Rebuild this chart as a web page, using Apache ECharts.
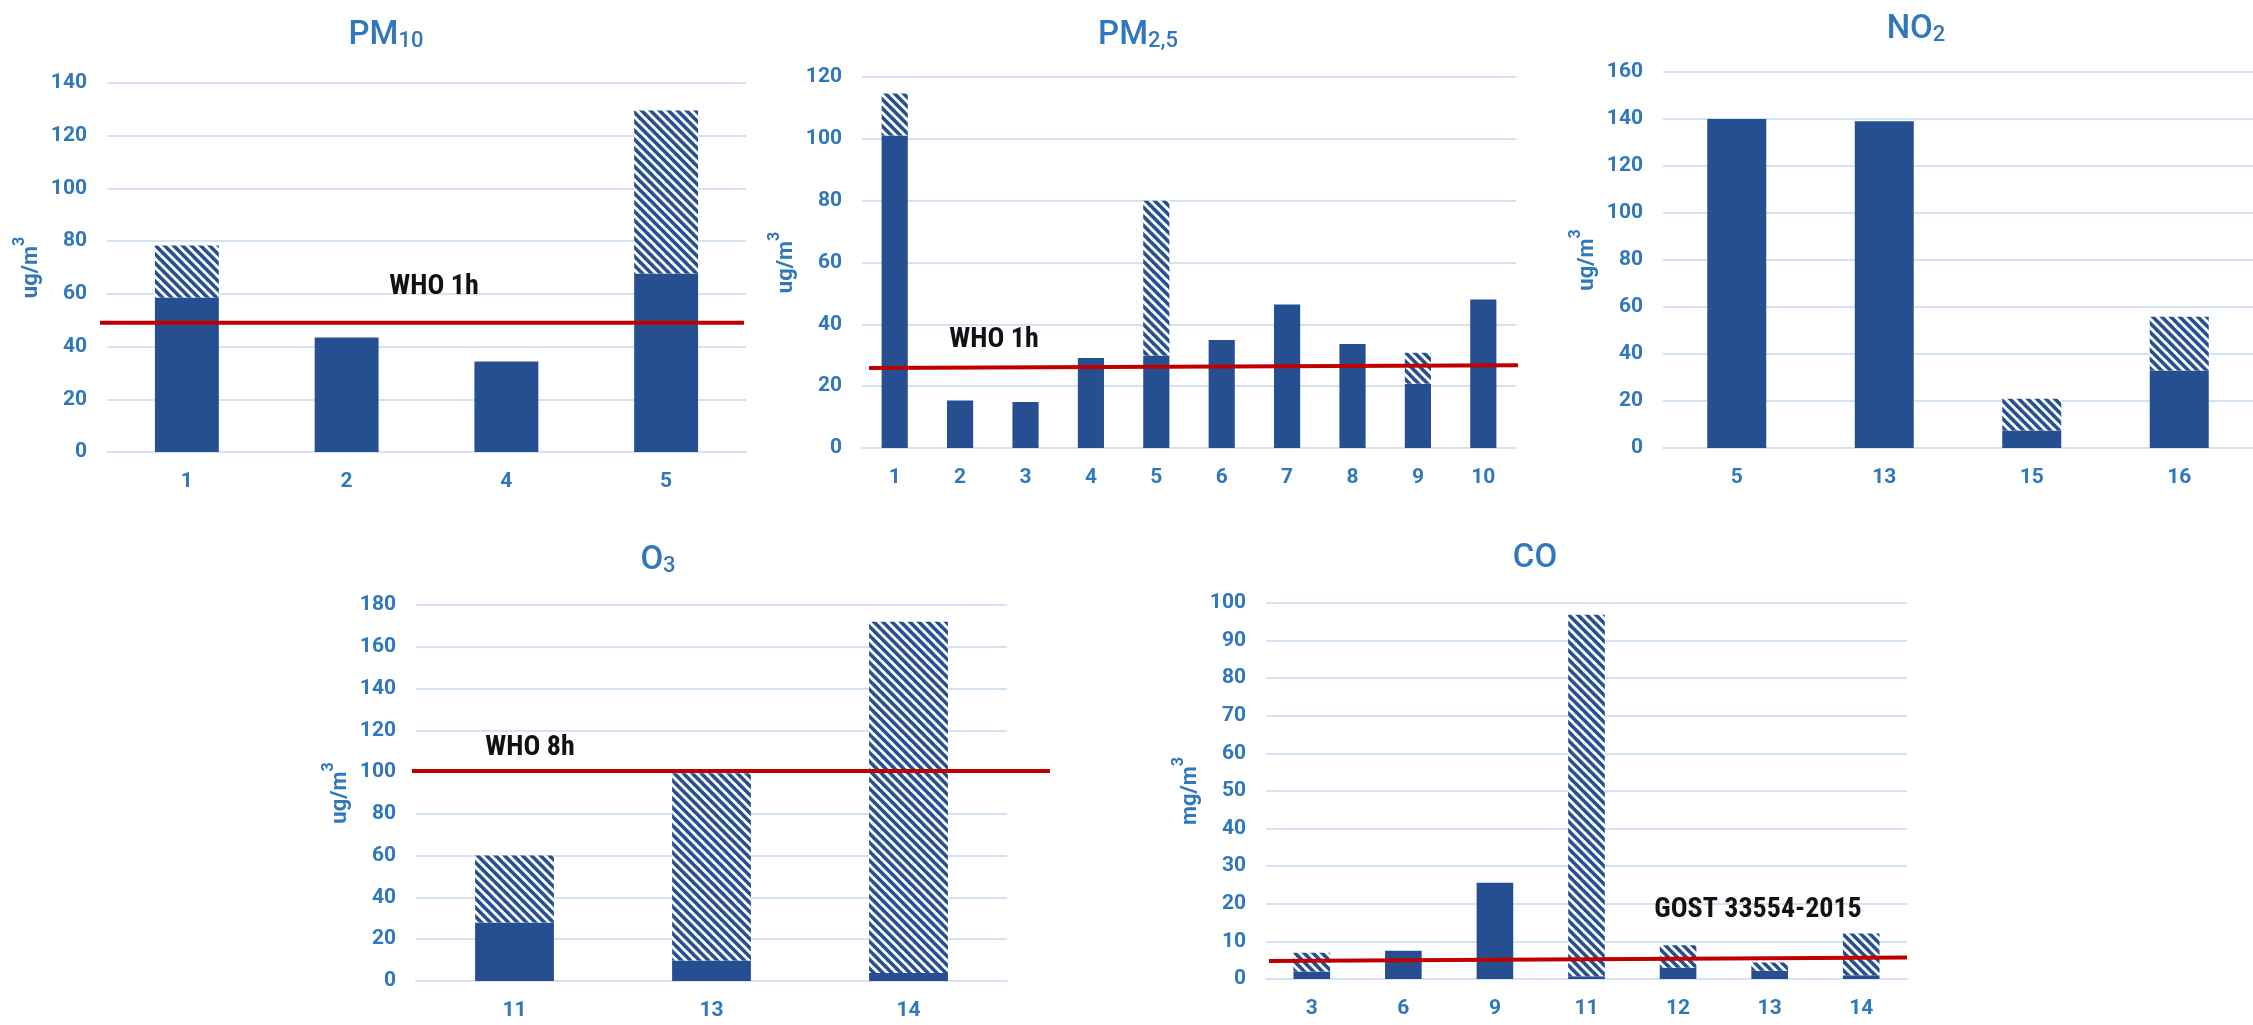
<!DOCTYPE html>
<html><head><meta charset="utf-8">
<script src="https://cdn.jsdelivr.net/npm/echarts/dist/echarts.min.js"></script>
<style>html,body{margin:0;padding:0;background:#fff}#c{width:2253px;height:1025px}</style>
</head><body><div id="c"></div><script>
// ---------------- data ----------------
const pm10Cats = ['1', '2', '4', '5'];
const pm10Measured = [58.6, 43.4, 34.3, 67.7];
const pm10Peak = [78.3, null, null, 129.6];
const pm10Limit = [49, 49];
const pm10Ticks = [0, 140, 20];

const pm25Cats = ['1', '2', '3', '4', '5', '6', '7', '8', '9', '10'];
const pm25Measured = [101.1, 15.4, 14.9, 29.1, 29.9, 34.9, 46.4, 33.6, 20.8, 48.0];
const pm25Peak = [114.7, null, null, null, 80.0, null, null, null, 30.8, null];
const pm25Limit = [25.9, 26.8];
const pm25Ticks = [0, 120, 20];

const no2Cats = ['5', '13', '15', '16'];
const no2Measured = [140.0, 139.0, 7.5, 33.0];
const no2Peak = [null, null, 21.0, 55.9];
const no2Ticks = [0, 160, 20];

const o3Cats = ['11', '13', '14'];
const o3Measured = [28.0, 9.8, 3.8];
const o3Peak = [60.1, 99.5, 172.0];
const o3Limit = [100.5, 100.5];
const o3Ticks = [0, 180, 20];

const coCats = ['3', '6', '9', '11', '12', '13', '14'];
const coMeasured = [2.0, 7.5, 25.6, 0.7, 3.0, 2.2, 1.0];
const coPeak = [7.0, null, null, 96.9, 9.0, 4.4, 12.1];
const coLimit = [4.8, 5.7];
const coTicks = [0, 100, 10];

// ---------------- styling ----------------
const BLUE = '#2F78BE';
const NAVY = '#264F91';
const GRIDC = '#D3E3F3';
const RED = '#C00000';
const FONT = "Roboto, 'Liberation Sans', sans-serif";
const NARROW = "'Liberation Sans Narrow', 'Roboto Condensed', Roboto, sans-serif";

function hatch() {
  const s = 9, c = document.createElement('canvas');
  c.width = s; c.height = s;
  const g = c.getContext('2d');
  g.fillStyle = '#ffffff'; g.fillRect(0, 0, s, s);
  g.strokeStyle = NAVY; g.lineWidth = 3.6;
  for (let o = -s; o <= s; o += s) {
    g.beginPath(); g.moveTo(o - 1, -1); g.lineTo(o + s + 1, s + 1); g.stroke();
  }
  return { image: c, repeat: 'repeat' };
}
const HATCH = hatch();

const panels = [
  { cats: pm10Cats, meas: pm10Measured, peak: pm10Peak, limit: pm10Limit, ticks: pm10Ticks,
    grid: { left: 107, top: 83, width: 639, height: 369 }, unit: 'ug', line: [-7, 637],
    title: ['PM', '10'], tx: 386, ty: -4, lab: 'WHO 1h', lx: 434, ly: 287 },
  { cats: pm25Cats, meas: pm25Measured, peak: pm25Peak, limit: pm25Limit, ticks: pm25Ticks,
    grid: { left: 862, top: 77, width: 654, height: 371 }, unit: 'ug', line: [7, 656],
    title: ['PM', '2,5'], tx: 1138, ty: -4, lab: 'WHO 1h', lx: 994, ly: 340 },
  { cats: no2Cats, meas: no2Measured, peak: no2Peak, limit: null, ticks: no2Ticks,
    grid: { left: 1663, top: 72, width: 590, height: 376 }, unit: 'ug', line: null,
    title: ['NO', '2'], tx: 1916, ty: -10 },
  { cats: o3Cats, meas: o3Measured, peak: o3Peak, limit: o3Limit, ticks: o3Ticks,
    grid: { left: 416, top: 605, width: 591, height: 376 }, unit: 'ug', line: [-4, 634],
    title: ['O', '3'], tx: 658, ty: 521, lab: 'WHO 8h', lx: 530, ly: 748 },
  { cats: coCats, meas: coMeasured, peak: coPeak, limit: coLimit, ticks: coTicks,
    grid: { left: 1266, top: 603, width: 641, height: 376 }, unit: 'mg', line: [3, 641],
    title: ['CO', ''], tx: 1535, ty: 519, lab: 'GOST 33554-2015', lx: 1758, ly: 910 }
];

const grid = [], xAxis = [], yAxis = [], series = [], graphic = [];
panels.forEach((p, i) => {
  grid.push(Object.assign({ outerBoundsMode: 'none', containLabel: false }, p.grid));
  xAxis.push({
    type: 'category', gridIndex: i, data: p.cats,
    axisLine: { show: true, lineStyle: { color: GRIDC, width: 2 } },
    axisTick: { show: false },
    axisLabel: { color: BLUE, fontSize: 21, fontFamily: FONT, fontWeight: 'bold', margin: 19 }
  });
  yAxis.push({
    type: 'value', gridIndex: i, min: p.ticks[0], max: p.ticks[1], interval: p.ticks[2],
    axisLine: { show: false }, axisTick: { show: false },
    axisLabel: { color: BLUE, fontSize: 21, fontFamily: FONT, fontWeight: 'bold', margin: 20 },
    splitLine: { lineStyle: { color: GRIDC, width: 2 } }
  });
  series.push({
    type: 'bar', xAxisIndex: i, yAxisIndex: i, stack: 's' + i, barCategoryGap: '60%',
    itemStyle: { color: NAVY }, data: p.meas, silent: true
  });
  series.push({
    type: 'bar', xAxisIndex: i, yAxisIndex: i, stack: 's' + i, barCategoryGap: '60%',
    itemStyle: { color: HATCH },
    data: p.peak.map((v, k) => v == null ? '-' : +(v - p.meas[k]).toFixed(2)), silent: true
  });
  // panel title
  graphic.push({
    type: 'text', x: p.tx, y: p.ty, z: 10,
    style: {
      text: '{a|' + p.title[0] + '}' + (p.title[1] ? '{b|' + p.title[1] + '}' : ''),
      align: 'center', verticalAlign: 'top', textAlign: 'center', textVerticalAlign: 'top',
      rich: {
        a: { fontSize: 33, fontFamily: FONT, fontWeight: 500, fill: BLUE, color: BLUE, lineHeight: 56, verticalAlign: 'bottom' },
        b: { fontSize: 22, fontFamily: FONT, fontWeight: 500, fill: BLUE, color: BLUE, lineHeight: 22, verticalAlign: 'bottom' }
      }
    }
  });
  // y-axis unit name (rotated)
  graphic.push({
    type: 'text', x: p.grid.left - 80, y: p.grid.top + p.grid.height / 2, rotation: Math.PI / 2, z: 10,
    style: {
      text: '{a|' + p.unit + '/m}{b|3}',
      align: 'center', verticalAlign: 'middle', textAlign: 'center', textVerticalAlign: 'middle',
      rich: {
        a: { fontSize: 22, fontFamily: FONT, fontWeight: 'bold', fill: BLUE, color: BLUE, lineHeight: 30, verticalAlign: 'bottom' },
        b: { fontSize: 16, fontFamily: FONT, fontWeight: 'bold', fill: BLUE, color: BLUE, lineHeight: 16, verticalAlign: 'top' }
      }
    }
  });
});

// threshold lines: each in its own invisible grid spanning the line's extent, sharing the value range
panels.forEach((p, i) => {
  if (!p.limit) return;
  const a = p.line[0], b = p.line[1];
  const gi = grid.length;
  grid.push({ outerBoundsMode: 'none', containLabel: false, left: p.grid.left + a, width: b - a,
              top: p.grid.top, height: p.grid.height });
  const xi = xAxis.length, yi = yAxis.length;
  xAxis.push({ type: 'value', gridIndex: gi, min: 0, max: 1, show: false });
  yAxis.push({ type: 'value', gridIndex: gi, min: p.ticks[0], max: p.ticks[1], interval: p.ticks[2],
               show: false, splitLine: { show: false } });
  series.push({
    type: 'line', xAxisIndex: xi, yAxisIndex: yi, symbol: 'none', silent: true, z: 5,
    lineStyle: { color: RED, width: 4 },
    data: [[0, p.limit[0]], [1, p.limit[1]]]
  });
  graphic.push({
    type: 'text', x: p.lx, y: p.ly, z: 10,
    style: {
      text: p.lab, fill: '#111111', font: 'bold 28px ' + NARROW,
      align: 'center', verticalAlign: 'middle', textAlign: 'center', textVerticalAlign: 'middle'
    }
  });
});

const chart = echarts.init(document.getElementById('c'), null, { renderer: 'canvas' });
chart.setOption({
  animation: false, backgroundColor: '#ffffff',
  grid, xAxis, yAxis, series, graphic
});
</script></body></html>
